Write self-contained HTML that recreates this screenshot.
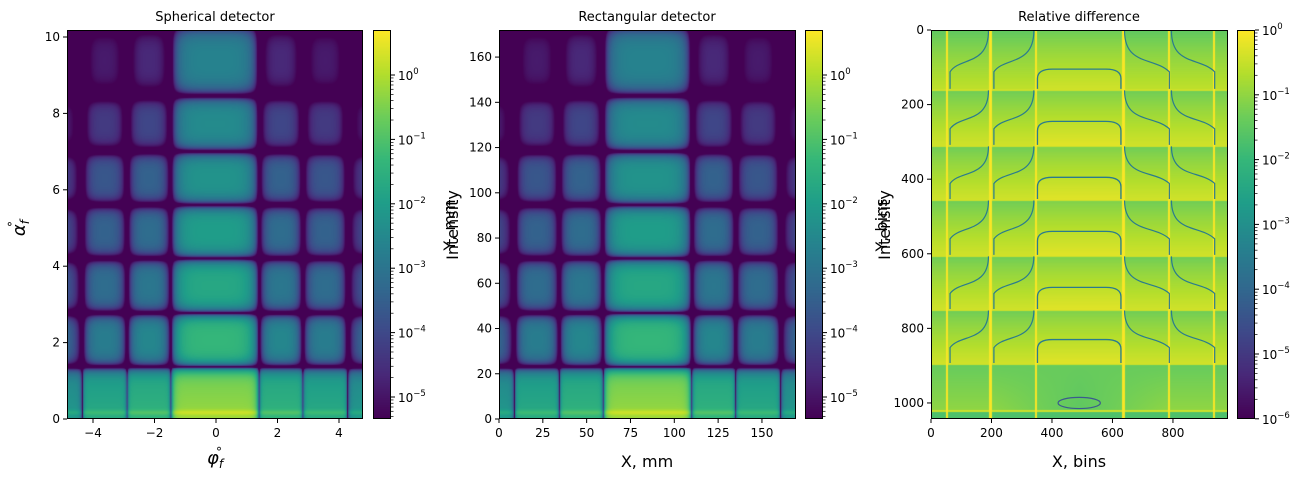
<!DOCTYPE html>
<html><head><meta charset="utf-8"><style>
body{margin:0;background:#fff;width:1309px;height:483px;overflow:hidden;position:relative;font-family:"DejaVu Sans","Liberation Sans",sans-serif;}
canvas{position:absolute;}
svg{position:absolute;left:0;top:0;font-family:"DejaVu Sans","Liberation Sans",sans-serif;}
</style></head><body>
<canvas id="c1" width="296" height="389" style="left:67px;top:30px"></canvas>
<canvas id="c2" width="297" height="389" style="left:499px;top:30px"></canvas>
<canvas id="c3" width="297" height="389" style="left:931px;top:30px"></canvas>
<canvas id="cb1" width="18" height="389" style="left:373px;top:30px"></canvas>
<canvas id="cb2" width="18" height="389" style="left:805px;top:30px"></canvas>
<canvas id="cb3" width="18" height="389" style="left:1237px;top:30px"></canvas>
<svg id="s" width="1309" height="483"></svg>
<script>
// ---- data ----
const phiEdges=[-6.2,-4.3,-2.85,-1.43,1.43,2.85,4.3,6.2];
const colLog=[-1.9,-1.45,-1.2,0,-1.2,-1.45,-1.9];
const rowEdges=[0,1.36,2.77,4.2,5.6,7.0,8.45,10.3];
const rowLog=[-0.2,-1.35,-1.75,-2.0,-2.25,-2.45,-2.65];
const bgLog=-5.6;
const x1Ticks=[-4,-2,0,2,4];
const y1Ticks=[0,2,4,6,8,10];
const x2Ticks=[0,25,50,75,100,125,150];
const y2Ticks=[0,20,40,60,80,100,120,140,160];
const x3Ticks=[0,200,400,600,800];
const y3Ticks=[0,200,400,600,800,1000];
const diffColEdges=[0,50,195,345,635,785,935,982];
const diffRowEdges=[0,160,310,455,605,750,895,1020,1043];
const arcTops=[105,245,395,540,690,830];
const cb1Ticks=[0,-1,-2,-3,-4,-5];
const cb3Ticks=[0,-1,-2,-3,-4,-5,-6];

const VS=[[68,1,84],[72,40,120],[62,73,137],[49,104,142],[38,130,142],[31,158,137],[53,183,121],[109,205,89],[180,222,44],[253,231,37]];
function viridis(t){t=Math.max(0,Math.min(1,t));const p=t*(VS.length-1),i=Math.min(VS.length-2,Math.floor(p)),f=p-i;
return [0,1,2].map(k=>Math.round(VS[i][k]+(VS[i+1][k]-VS[i][k])*f));}

const NS='http://www.w3.org/2000/svg';const S=document.getElementById('s');
function el(t,a,txt){const e=document.createElementNS(NS,t);for(const k in a)e.setAttribute(k,a[k]);if(txt!==undefined)e.textContent=txt;S.appendChild(e);return e;}

// ---- intensity model from arrays ----
function logI(phi,al){
  let i=-1,j=-1;
  for(let k=0;k<colLog.length;k++)if(phi>=phiEdges[k]&&phi<phiEdges[k+1])i=k;
  for(let k=0;k<rowLog.length;k++)if(al>=rowEdges[k]&&al<rowEdges[k+1])j=k;
  if(i<0||j<0)return bgLog;
  const a=phiEdges[i],b=phiEdges[i+1],c=rowEdges[j],d=rowEdges[j+1];
  const u=Math.abs(2*(phi-(a+b)/2)/(b-a));
  let v=Math.abs(2*(al-(c+d)/2)/(d-c));
  if(j===0&&al<(c+d)/2)v=0;
  const pu=j===0?14:(i===3?5:3.2);
  const fu=1-Math.pow(u,pu),fv=1-Math.pow(v,3.5);
  let L=colLog[i]+rowLog[j]+3.5*Math.log10(Math.max(fu*fv,1e-5));
  if(j===0)L+=0.5*Math.exp(-Math.pow((al-0.17)/0.07,2))-0.35*al;
  if(j>=5&&i!==3)L-=0.4*(j-4);
  return Math.max(bgLog,L);
}
const vmin=-5.34,vmax=0.7;
function drawHeat(id){
  const c=document.getElementById(id),g=c.getContext('2d'),W=c.width,H=c.height,im=g.createImageData(W,H);
  for(let py=0;py<H;py++){const al=10.18*(1-(py+0.5)/H);
    for(let px=0;px<W;px++){const phi=-4.8+9.6*(px+0.5)/W;
      const col=viridis((logI(phi,al)-vmin)/(vmax-vmin));const o=(py*W+px)*4;
      im.data[o]=col[0];im.data[o+1]=col[1];im.data[o+2]=col[2];im.data[o+3]=255;}}
  g.putImageData(im,0,0);
}
drawHeat('c1');drawHeat('c2');

// relative difference
(function(){
  const c=document.getElementById('c3'),g=c.getContext('2d'),W=c.width,H=c.height,im=g.createImageData(W,H);
  const X=px=>px/W*982,Y=py=>py/H*1043;
  for(let py=0;py<H;py++){const yb=Y(py);let r=0;for(let k=0;k<diffRowEdges.length-1;k++)if(yb>=diffRowEdges[k])r=k;
    const t=(yb-diffRowEdges[r])/(diffRowEdges[r+1]-diffRowEdges[r]);
    for(let px=0;px<W;px++){const xb=X(px);let ci=0;for(let k=0;k<diffColEdges.length-1;k++)if(xb>=diffColEdges[k])ci=k;
      const cc=(ci===3)?0.15:0;
      let v=-1.35+0.95*Math.pow(t,0.8)+cc;
      if(r===0)v-=0.15;
      if(r===6)v=-1.4+0.4*t-0.5*Math.max(0,1-Math.abs(xb-490)/300)*t;
      if(r===7)v=-1.7;
      const dv=Math.min(...diffColEdges.slice(1,-1).map(e=>Math.abs(xb-e)));
      if(dv<3.5)v=Math.max(v,-0.05);
      const dh=Math.min(...diffRowEdges.slice(1,-1).map(e=>Math.abs(yb-e)));
      if(dh<2.5)v=Math.max(v,-0.45);
      const col=viridis((v+6)/6);const o=(py*W+px)*4;
      im.data[o]=col[0];im.data[o+1]=col[1];im.data[o+2]=col[2];im.data[o+3]=255;}}
  g.putImageData(im,0,0);
})();

// colorbars
function drawCb(id){const c=document.getElementById(id),g=c.getContext('2d');
  for(let py=0;py<c.height;py++){const col=viridis(1-py/(c.height-1));g.fillStyle=`rgb(${col})`;g.fillRect(0,py,c.width,1);}}
drawCb('cb1');drawCb('cb2');drawCb('cb3');

// contours on diff panel
const dx=b=>931+b*297/982, dy=b=>30+b*389/1043;
for(let k=0;k<arcTops.length;k++){
  const top=arcTops[k],bot=diffRowEdges[k+1]-2;
  const x0=dx(352),x1=dx(628);
  const p=el('path',{d:`M${x0},${dy(bot)} L${x0},${dy(top+25)} Q${x0},${dy(top)} ${x0+15},${dy(top)} L${x1-15},${dy(top)} Q${x1},${dy(top)} ${x1},${dy(top+25)} L${x1},${dy(bot)}`,fill:'none',stroke:'#2a7b8e','stroke-width':1.3});
  
  const rt=diffRowEdges[k],rb=diffRowEdges[k+1],h=rb-rt;
  [[200,340],[780,640],[55,190],[930,795]].forEach(([a,b])=>{
    const q=el('path',{d:`M${dx(b)},${dy(rt+2)} C${dx(b)},${dy(rt+0.6*h)} ${dx(a+(b-a)*0.3)},${dy(rt+0.45*h)} ${dx(a+8)},${dy(rt+0.7*h)} L${dx(a+8)},${dy(rb-2)}`,fill:'none',stroke:'#2a7b8e','stroke-width':1.2});
    
  });
}
{const e=el('ellipse',{cx:dx(490),cy:dy(1000),rx:dx(560)-dx(490),ry:dy(1015)-dy(1000),fill:'none',stroke:'#3b5a8e','stroke-width':1.2});}

// frames & axes
function frame(x,y,w,h,name){const r=el('rect',{x:x+0.5,y:y+0.5,width:w-1,height:h-1,fill:'none',stroke:'#000','stroke-width':1});}
frame(67,30,296,389,'axes-frame-1');frame(499,30,297,389,'axes-frame-2');frame(931,30,297,389,'axes-frame-3');
frame(373,30,18,389,'colorbar-frame-1');frame(805,30,18,389,'colorbar-frame-2');frame(1237,30,18,389,'colorbar-frame-3');
function xt(ticks,fx,y,name){ticks.forEach(v=>{const x=fx(v);el('line',{x1:x,y1:y,x2:x,y2:y+4,stroke:'#000'});
  const t=el('text',{x:x,y:y+18,'font-size':12,'text-anchor':'middle'},String(v).replace('-','−'));});}
function yt(ticks,fy,x,name){ticks.forEach(v=>{const y=fy(v);el('line',{x1:x,y1:y,x2:x-4,y2:y,stroke:'#000'});
  const t=el('text',{x:x-7,y:y+4,'font-size':12,'text-anchor':'end'},String(v));});}
xt(x1Ticks,v=>216+v*30.75,419,'x-tick-1');yt(y1Ticks,v=>419-v*38.2,67,'y-tick-1');
xt(x2Ticks,v=>499+v*1.753,419,'x-tick-2');yt(y2Ticks,v=>419-v*2.262,499,'y-tick-2');
xt(x3Ticks,v=>dx(v),419,'x-tick-3');yt(y3Ticks,v=>dy(v),931,'y-tick-3');
function cbt(ticks,x,fy,name){ticks.forEach(v=>{const y=fy(v);el('line',{x1:x,y1:y,x2:x+4,y2:y,stroke:'#000'});
  for(let m=2;m<10;m++){const ym=fy(v-1+Math.log10(m));if(ym>30&&ym<419)el('line',{x1:x,y1:ym,x2:x+2.5,y2:ym,stroke:'#000','stroke-width':0.7});}
  const t=el('text',{x:x+7,y:y+5,'font-size':12},'10');
  const ts=document.createElementNS(NS,'tspan');ts.setAttribute('dy','-6');ts.setAttribute('font-size','8.5');ts.textContent=v===0?'0':'−'+(-v);t.appendChild(ts);});}
cbt(cb1Ticks,391,v=>75-v*64.4,'colorbar-tick-1');cbt(cb1Ticks,823,v=>75-v*64.4,'colorbar-tick-2');cbt(cb3Ticks,1255,v=>30-v*64.8,'colorbar-tick-3');

function lab(x,y,txt,size,name,rot,style){const a={x:x,y:y,'font-size':size,'text-anchor':'middle'};if(rot)a.transform=`rotate(-90 ${x} ${y})`;if(style)a['font-style']=style;
  const t=el('text',a,txt);return t;}
function sub(t,s,sup){const a=document.createElementNS(NS,'tspan');a.setAttribute('dy','4');a.setAttribute('font-size','12');a.textContent=s;t.appendChild(a);
  const b=document.createElementNS(NS,'tspan');b.setAttribute('dy','-12');b.setAttribute('dx','-7');b.setAttribute('font-size','12');b.setAttribute('font-style','normal');b.textContent=sup;t.appendChild(b);}
lab(215,21,'Spherical detector',13,'title-1');lab(647,21,'Rectangular detector',13,'title-2');lab(1079,21,'Relative difference',13,'title-3');
sub(lab(215,464,'φ',18,'x-axis-title-1',0,'italic'),'f','°');
sub(lab(25,228,'α',18,'y-axis-title-1',1,'italic'),'f','°');
lab(647,467,'X, mm',16,'x-axis-title-2');lab(455,225,'Y, mm',16,'y-axis-title-2',1);lab(458,225,'Intensity',16,'colorbar-label-1',1);
lab(1079,467,'X, bins',16,'x-axis-title-3');lab(887,225,'Y, bins',16,'y-axis-title-3',1);lab(890,225,'Intensity',16,'colorbar-label-2',1);
</script>
</body></html>
